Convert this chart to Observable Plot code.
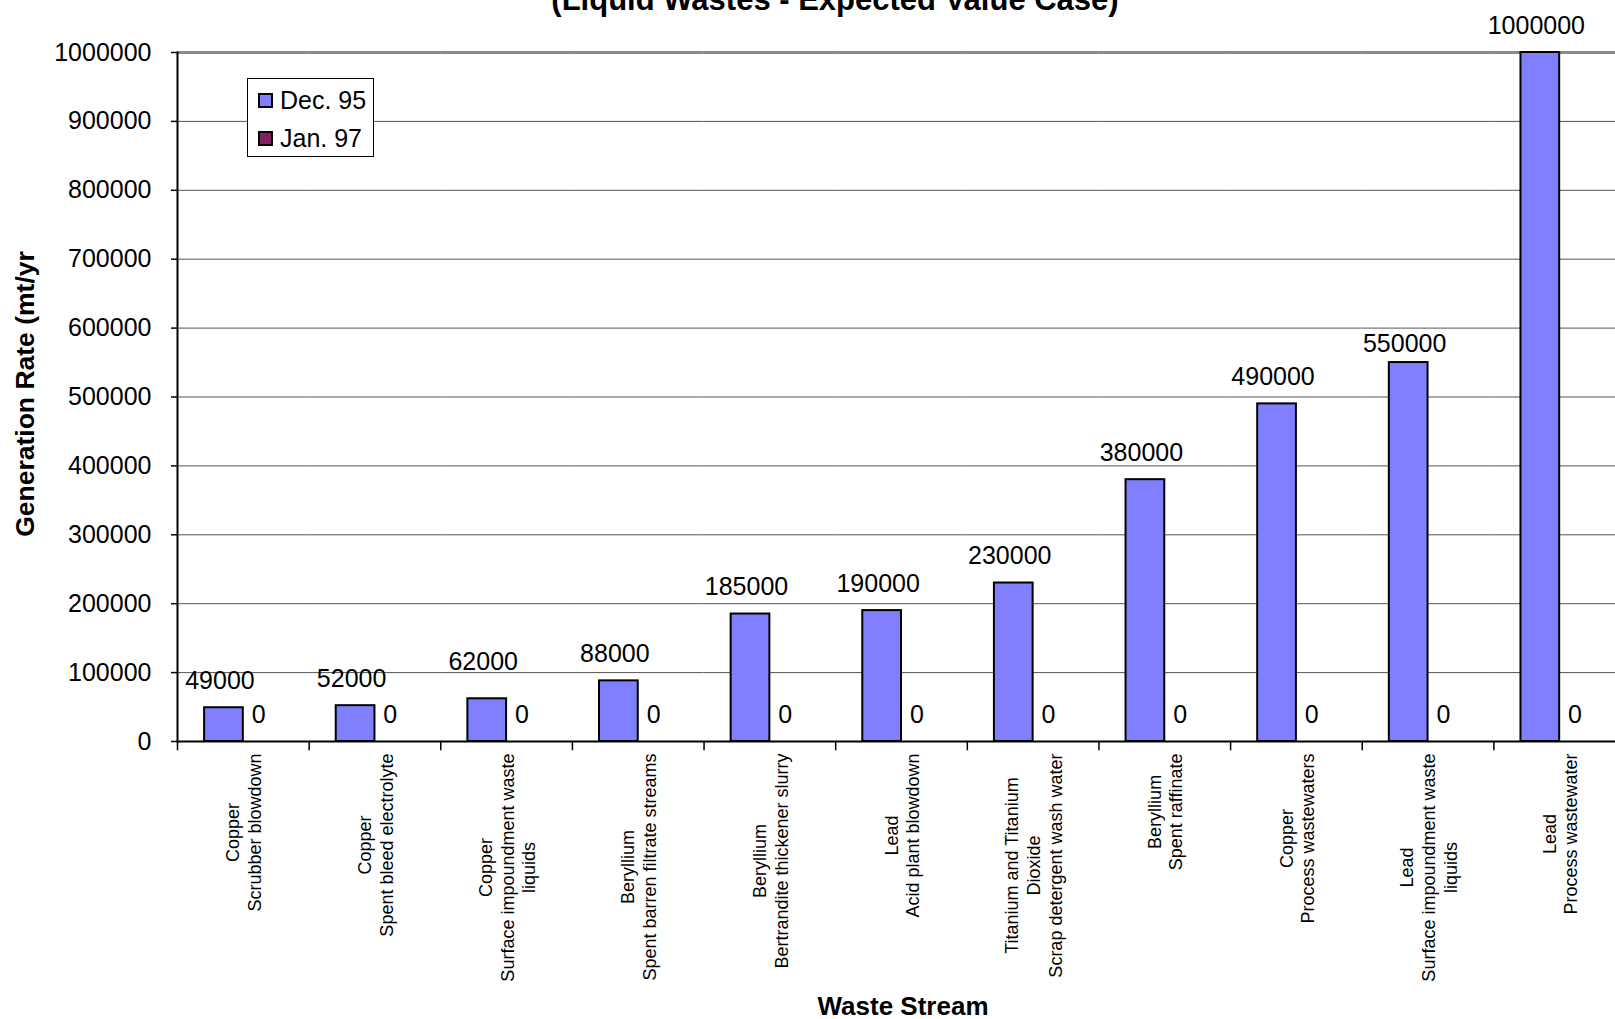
<!DOCTYPE html>
<html>
<head>
<meta charset="utf-8">
<script src="https://cdn.jsdelivr.net/npm/d3@7"></script>
<script src="https://cdn.jsdelivr.net/npm/@observablehq/plot@0.6"></script>
<style>
html, body { margin: 0; padding: 0; background: #fff; overflow: hidden; width: 1615px; height: 1019px; }
#wrap { position: relative; width: 1615px; height: 1019px; overflow: hidden; font-family: "Liberation Sans", Arial, sans-serif; color: #000; }
#chart svg { max-width: none !important; display: block; }
.title { position: absolute; left: 0; width: 1670px; top: -16px; text-align: center; font-weight: bold; font-size: 31px; line-height: 31px; white-space: nowrap; }
.ytitle { position: absolute; left: 25px; top: 394px; transform: translate(-50%, -50%) rotate(-90deg); font-weight: bold; font-size: 26.5px; white-space: nowrap; }
.xtitle { position: absolute; left: 903px; top: 1006px; transform: translate(-50%, -50%); font-weight: bold; font-size: 26px; white-space: nowrap; }
#legend { position: absolute; left: 247px; top: 78px; width: 125px; height: 77px; border: 1px solid #000; background: #fff; }
.item { position: absolute; left: 10px; height: 30px; display: flex; align-items: center; font-size: 25px; white-space: nowrap; }
.sw { width: 11px; height: 11px; border: 2px solid #000; margin-right: 7px; }
</style>
</head>
<body>
<div id="wrap">
  <div id="chart"></div>
  <div class="title">(Liquid Wastes - Expected Value Case)</div>
  <div class="ytitle">Generation Rate (mt/yr</div>
  <div class="xtitle">Waste Stream</div>
  <div id="legend"></div>
</div>
<script>
// ---- data ----
const categories = [
  "Copper\nScrubber blowdown",
  "Copper\nSpent bleed electrolyte",
  "Copper\nSurface impoundment waste\nliquids",
  "Beryllium\nSpent barren filtrate streams",
  "Beryllium\nBertrandite thickener slurry",
  "Lead\nAcid plant blowdown",
  "Titanium and Titanium\nDioxide\nScrap detergent wash water",
  "Beryllium\nSpent raffinate",
  "Copper\nProcess wastewaters",
  "Lead\nSurface impoundment waste\nliquids",
  "Lead\nProcess wastewater"
];
const seriesNames = ["Dec. 95", "Jan. 97"];
const seriesColors = ["#8080FF", "#802060"];
const dec95 = [49000, 52000, 62000, 88000, 185000, 190000, 230000, 380000, 490000, 550000, 1000000];
const jan97 = [0, 0, 0, 0, 0, 0, 0, 0, 0, 0, 0];
const yTicks = [0, 100000, 200000, 300000, 400000, 500000, 600000, 700000, 800000, 900000, 1000000];

const rows = categories.flatMap((c, i) => [
  {cat: c, series: seriesNames[0], value: dec95[i]},
  {cat: c, series: seriesNames[1], value: jan97[i]}
]);

const W = 1640, H = 1019;
const mTop = 52, mBottom = 278, mLeft = 177, mRight = 15;
const plotH = H - mTop - mBottom;

// label placement tweaks (style only): a couple of value labels sit off their usual spot in the original
const labelNudge = d => (d.series === seriesNames[0] && d.cat === categories[2]) ? -10
                      : (d.series === seriesNames[0] && d.cat === categories[9]) ? 8 : 0;
const labelGroups = d3.groups(rows, labelNudge);
const labelOpts = {fx: "cat", x: "series", y: "value", text: d => String(d.value), dx: -4, fontSize: 25, fill: "black"};

const plot = Plot.plot({
  width: W, height: H,
  marginTop: mTop, marginBottom: mBottom, marginLeft: mLeft, marginRight: mRight,
  style: {fontFamily: "Liberation Sans, Arial, sans-serif", background: "white", color: "black"},
  fx: {domain: categories, padding: 0, round: false, label: null},
  x: {domain: seriesNames, paddingInner: 0, paddingOuter: 0.7, round: false, axis: null},
  y: {domain: [0, 1000000], axis: null},
  color: {domain: seriesNames, range: seriesColors},
  marks: [
    Plot.gridY(yTicks, {stroke: "#555", strokeOpacity: 1, strokeWidth: 1}),
    Plot.ruleY([1000000], {stroke: "#8a8a8a", strokeWidth: 3}),
    Plot.barY(rows, {fx: "cat", x: "series", y: "value", fill: "series", stroke: "black", strokeWidth: 2}),
    Plot.ruleY([0], {stroke: "black", strokeWidth: 2}),
    Plot.frame({anchor: "left", facetAnchor: "left", stroke: "black", strokeWidth: 2}),
    Plot.frame({anchor: "left", insetTop: plotH, insetBottom: -8, stroke: "black", strokeWidth: 1.5}),
    Plot.axisY({ticks: yTicks, tickSize: 6, tickPadding: 20, fontSize: 25, tickFormat: d3.format("d"), stroke: "black", strokeWidth: 1.5, label: null}),
    Plot.axisFx({anchor: "bottom", tickSize: 0, tickPadding: 12, tickRotate: -90, fontSize: 18, lineHeight: 1.2, label: null}),
    ...labelGroups.map(([n, g]) => Plot.text(g, {...labelOpts, dy: -27 + n}))
  ]
});
document.getElementById("chart").appendChild(plot);

// center the lines of each rotated category label while keeping the block top-aligned at the axis
d3.select(plot).selectAll('g[aria-label="fx-axis tick label"] text').each(function() {
  const spans = this.querySelectorAll("tspan");
  if (spans.length < 2) return;
  let L = 0;
  spans.forEach(s => { L = Math.max(L, s.getComputedTextLength()); });
  this.setAttribute("text-anchor", "middle");
  spans.forEach(s => s.setAttribute("x", -L / 2));
});

// legend
const lg = d3.select("#legend");
seriesNames.forEach((s, i) => {
  const it = lg.append("div").attr("class", "item").style("top", (6 + i * 38) + "px");
  it.append("div").attr("class", "sw").style("background", seriesColors[i]);
  it.append("span").text(s);
});
</script>
</body>
</html>
